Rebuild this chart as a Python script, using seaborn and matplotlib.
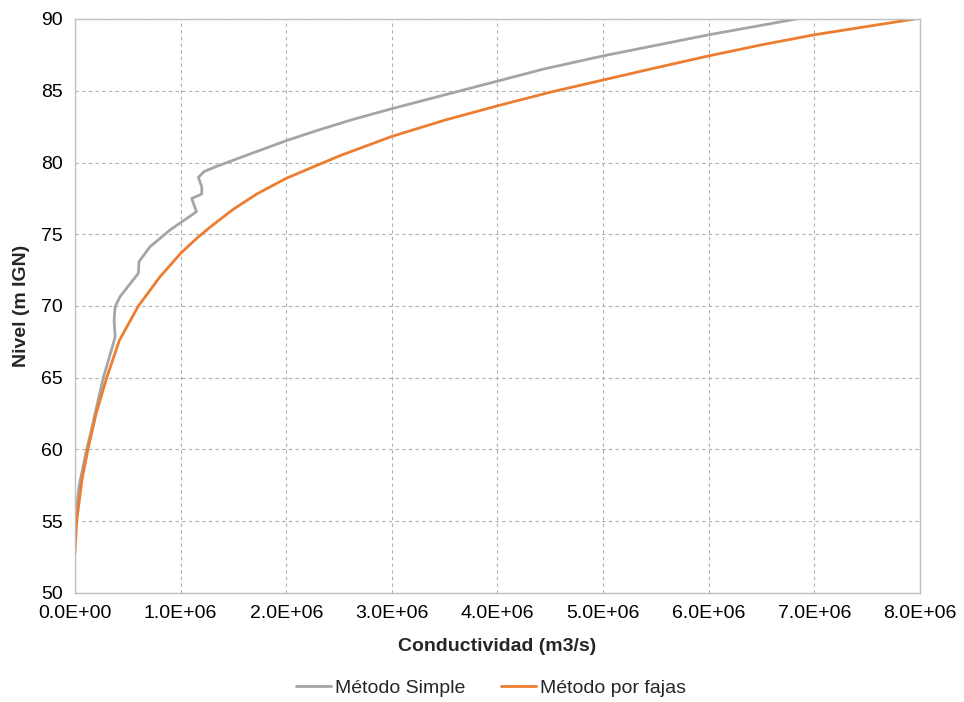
import matplotlib
matplotlib.use("Agg")
import matplotlib.pyplot as plt
import matplotlib.ticker as mticker
import seaborn as sns
import pandas as pd

# Método Simple (conductividad en m3/s, nivel en m IGN)
simple_nivel = [55.0, 57.5, 60.0, 61.36, 62.5, 65.0, 67.4, 67.86, 69.0, 69.96, 70.65, 72.28, 73.09,
                74.13, 75.3, 76.57, 77.5, 77.8, 78.31, 78.96, 79.36, 79.7, 80.52,
                81.52, 82.25, 83.0, 83.75, 85.0, 85.69, 86.5, 87.43, 88.9, 90.0]
simple_cond = [0.0, 0.04e6, 0.11e6, 0.155e6, 0.19e6, 0.268e6, 0.363e6, 0.38e6, 0.37e6, 0.38e6, 0.426e6, 0.60e6, 0.606e6,
               0.71e6, 0.90e6, 1.15e6, 1.105e6, 1.20e6, 1.20e6, 1.168e6, 1.22e6, 1.33e6, 1.63e6,
               2.0e6, 2.30e6, 2.63e6, 3.0e6, 3.65e6, 4.01e6, 4.43e6, 5.0e6, 6.0e6, 6.83e6]

# Método por fajas
fajas_nivel = [52.8, 55.0, 57.9, 60.0, 62.5, 65.0, 67.6, 70.0, 72.04, 73.67, 74.7, 75.5,
               76.75, 77.8, 78.9, 80.45, 81.82, 82.95, 83.95, 84.9, 85.75, 86.6, 87.43,
               88.2, 88.9, 89.48, 90.0]
fajas_cond = [0.0, 0.016e6, 0.066e6, 0.122e6, 0.20e6, 0.30e6, 0.42e6, 0.60e6, 0.805e6, 1.0e6, 1.15e6, 1.28e6,
              1.5e6, 1.72e6, 2.0e6, 2.5e6, 3.0e6, 3.5e6, 4.0e6, 4.5e6, 5.0e6, 5.5e6, 6.0e6,
              6.5e6, 7.0e6, 7.5e6, 7.95e6]

series_names = ["Método Simple", "Método por fajas"]
x_ticks = [0, 1e6, 2e6, 3e6, 4e6, 5e6, 6e6, 7e6, 8e6]
y_ticks = [50, 55, 60, 65, 70, 75, 80, 85, 90]

df = pd.concat([
    pd.DataFrame({"cond": simple_cond, "nivel": simple_nivel, "serie": series_names[0]}),
    pd.DataFrame({"cond": fajas_cond, "nivel": fajas_nivel, "serie": series_names[1]}),
], ignore_index=True)

sns.set_theme(style="white")
plt.rcParams["font.family"] = ["Liberation Sans", "DejaVu Sans"]

fig = plt.figure(figsize=(9.64, 7.02), dpi=100)
ax = fig.add_axes([75 / 964, 1 - 593 / 702, (920 - 75) / 964, (593 - 19) / 702])

palette = {series_names[0]: "#A5A5A5", series_names[1]: "#ED7D31"}
sns.lineplot(data=df, x="cond", y="nivel", hue="serie", palette=palette,
             sort=False, estimator=None, linewidth=2.0, ax=ax, legend=True)
for ln in ax.get_lines():
    ln.set_solid_joinstyle("round")

ax.set_xlim(0, 8e6)
ax.set_ylim(50, 90)
ax.set_xticks(x_ticks)
ax.set_yticks(y_ticks)
ax.xaxis.set_major_formatter(mticker.FuncFormatter(lambda v, p: f"{v:.1E}"))
ax.grid(True, linestyle=(0, (3, 3)), color="#AFAFAF", linewidth=0.8)
for s in ax.spines.values():
    s.set_color("#BFBFBF")
    s.set_linewidth(1.0)
ax.tick_params(axis="both", length=0, labelsize=14, colors="#000000")
ax.tick_params(axis="x", pad=8.5)
ax.tick_params(axis="y", pad=9)
ax.set_xlabel("Conductividad (m3/s)", fontsize=14, fontweight="bold", labelpad=12)
ax.set_ylabel("Nivel (m IGN)", fontsize=14, fontweight="bold", labelpad=8)

ax.get_legend().remove()
handles, labels = ax.get_legend_handles_labels()
fig.legend(handles, labels, loc="center", bbox_to_anchor=(491 / 964, 1 - 688 / 702),
           ncol=2, frameon=False, fontsize=14, handlelength=1.8, handletextpad=0.2,
           columnspacing=1.8)

fig.savefig("out.png", dpi=100)
